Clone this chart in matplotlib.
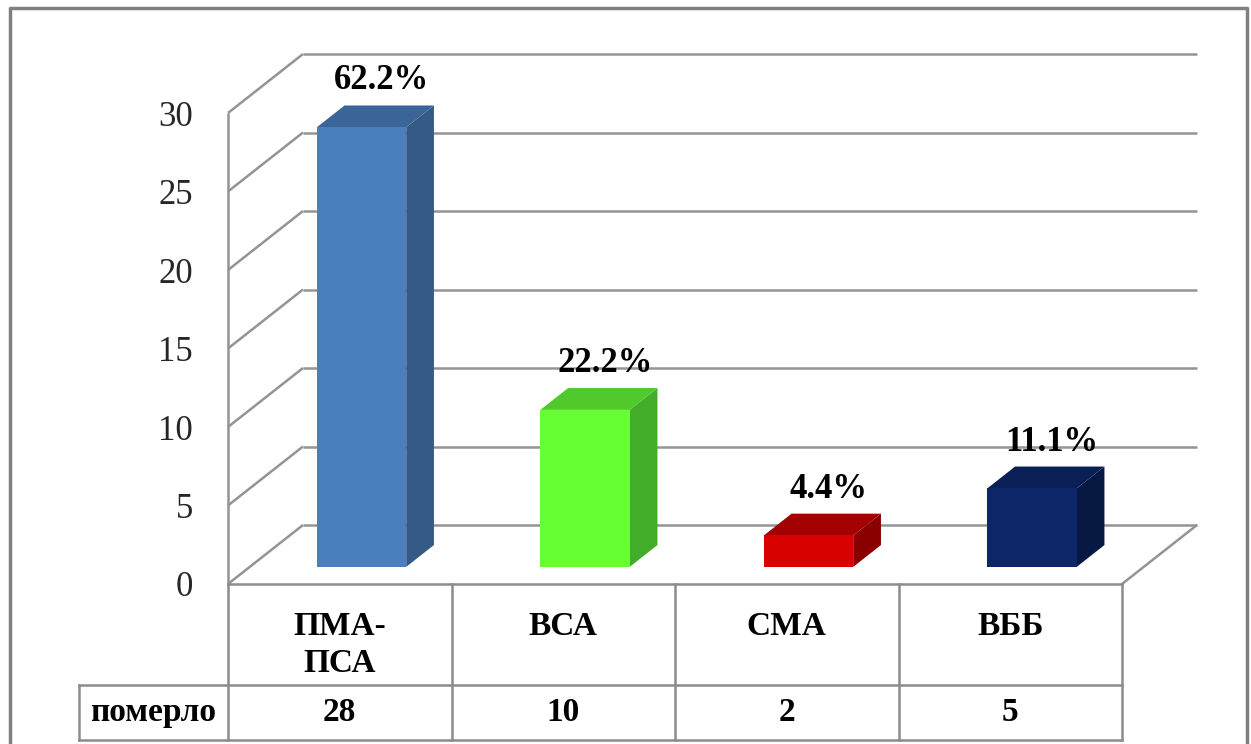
import matplotlib
matplotlib.use("Agg")
import matplotlib.pyplot as plt
from matplotlib.patches import Polygon
from matplotlib.lines import Line2D
import matplotlib.transforms as mtransforms

# ---- data ----
categories = ["ПМА-\nПСА", "ВСА", "СМА", "ВББ"]
deaths = [28, 10, 2, 5]
row_label = "померло"
y_ticks = [0, 5, 10, 15, 20, 25, 30]

# bar colours: (front, top, side)
front_colors = ["#4a7ebd", "#66ff33", "#d90000", "#0c2667"]
top_colors = ["#3b6498", "#4fc92b", "#a30000", "#0a1f56"]
side_colors = ["#365a88", "#43ad2a", "#8a0000", "#071843"]

total = sum(deaths)
percents = [d / total * 100 for d in deaths]

# ---- layout (pixels) ----
W, H = 1251, 744
X0_PX, X1_PX = 228, 1122      # front edge of the floor
Y0_PX, YTOP_PX = 584, 113     # value 0 and value 30 on the front plane
DEPTH_DX_PX, DEPTH_DY_PX = 75, 59
n = len(categories)
px_cat = (X1_PX - X0_PX) / n
px_unit = (Y0_PX - YTOP_PX) / y_ticks[-1]

fig = plt.figure(figsize=(W / 100, H / 100), dpi=100)
fig.patch.set_facecolor("white")
ax = fig.add_axes([0, 0, 1, 1])
ax.set_xlim(-X0_PX / px_cat, (W - X0_PX) / px_cat)
ax.set_ylim(-(H - Y0_PX) / px_unit, Y0_PX / px_unit)
ax.axis("off")

DX = DEPTH_DX_PX / px_cat
DY = DEPTH_DY_PX / px_unit

def at_depth(x, y, d):
    return (x + d * DX, y + d * DY)

grid_kw = dict(color="#949494", lw=1.8, zorder=1, solid_capstyle="butt")
ymax = y_ticks[-1]

# back wall gridlines and left wall diagonals
for v in y_ticks:
    xa, ya = at_depth(0, v, 1)
    xb, yb = at_depth(n, v, 1)
    ax.add_line(Line2D([xa, xb], [ya, yb], **grid_kw))
    ax.add_line(Line2D([0, xa], [v, ya], **grid_kw))
# front vertical axis line
ax.add_line(Line2D([0, 0], [0, ymax], **grid_kw))
# floor right edge
xr, yr = at_depth(n, 0, 1)
ax.add_line(Line2D([n, xr], [0, yr], **grid_kw))

# ---- 3D bars ----
bar_w = 0.40
d_front, d_back = 0.29, 0.66
for i, v in enumerate(deaths):
    cx = i + 0.5
    xl, xrt = cx - bar_w / 2, cx + bar_w / 2
    fl = at_depth(xl, 0, d_front)
    fr = at_depth(xrt, 0, d_front)
    flt = at_depth(xl, v, d_front)
    frt = at_depth(xrt, v, d_front)
    blt = at_depth(xl, v, d_back)
    brt = at_depth(xrt, v, d_back)
    br = at_depth(xrt, 0, d_back)
    ax.add_patch(Polygon([fr, br, brt, frt], closed=True,
                         facecolor=side_colors[i], edgecolor="none", zorder=3))
    ax.add_patch(Polygon([flt, frt, brt, blt], closed=True,
                         facecolor=top_colors[i], edgecolor="none", zorder=3))
    ax.add_patch(Polygon([fl, fr, frt, flt], closed=True,
                         facecolor=front_colors[i], edgecolor="none", zorder=4))
    # percentage label above the bar
    lx, _ = at_depth(cx, v, (d_front + d_back) / 2)
    ly_back = at_depth(cx, v, d_back)[1]
    ax.annotate(f"{percents[i]:.1f}%", xy=(lx, ly_back), xytext=(6, 8),
                textcoords="offset pixels", ha="center", va="bottom",
                fontsize=25, fontweight="bold", family="Liberation Serif",
                color="black", zorder=6)

# ---- y tick labels ----
tick_tr = mtransforms.offset_copy(ax.transData, fig=fig, x=-35, y=-4, units="dots")
for v in y_ticks:
    ax.text(0, v, str(v), transform=tick_tr, ha="right", va="center",
            fontsize=25, family="Liberation Serif", color="#262626")

# ---- data table ----
table_kw = dict(color="#8c8c8c", lw=1.8, zorder=2, solid_capstyle="projecting")
row1_bottom = -(685 - Y0_PX) / px_unit
row2_bottom = -(740 - Y0_PX) / px_unit
label_left = -(X0_PX - 79) / px_cat

ax.add_line(Line2D([0, n], [0, 0], **table_kw))
ax.add_line(Line2D([label_left, n], [row1_bottom, row1_bottom], **table_kw))
ax.add_line(Line2D([label_left, n], [row2_bottom, row2_bottom], **table_kw))
ax.add_line(Line2D([label_left, label_left], [row1_bottom, row2_bottom], **table_kw))
for k in range(n + 1):
    ax.add_line(Line2D([k, k], [0, row2_bottom], **table_kw))

head_y = -(611 - Y0_PX) / px_unit
row2_mid = (row1_bottom + row2_bottom) / 2
for i, (cat, v) in enumerate(zip(categories, deaths)):
    ax.text(i + 0.5, head_y, cat, ha="center", va="top", fontsize=24,
            fontweight="bold", family="Liberation Serif", linespacing=1.25)
    ax.text(i + 0.5, row2_mid, str(v), ha="center", va="center", fontsize=24,
            fontweight="bold", family="Liberation Serif")
ax.text(label_left / 2, row2_mid, row_label, ha="center", va="center",
        fontsize=24, fontweight="bold", family="Liberation Serif")

# ---- outer frame ----
fig.add_artist(Line2D([10 / W, 10 / W, 1247 / W, 1247 / W],
                      [0, 1 - 8 / H, 1 - 8 / H, 0],
                      transform=fig.transFigure, color="#808080", lw=2.5))

fig.savefig("out.png", dpi=100)
